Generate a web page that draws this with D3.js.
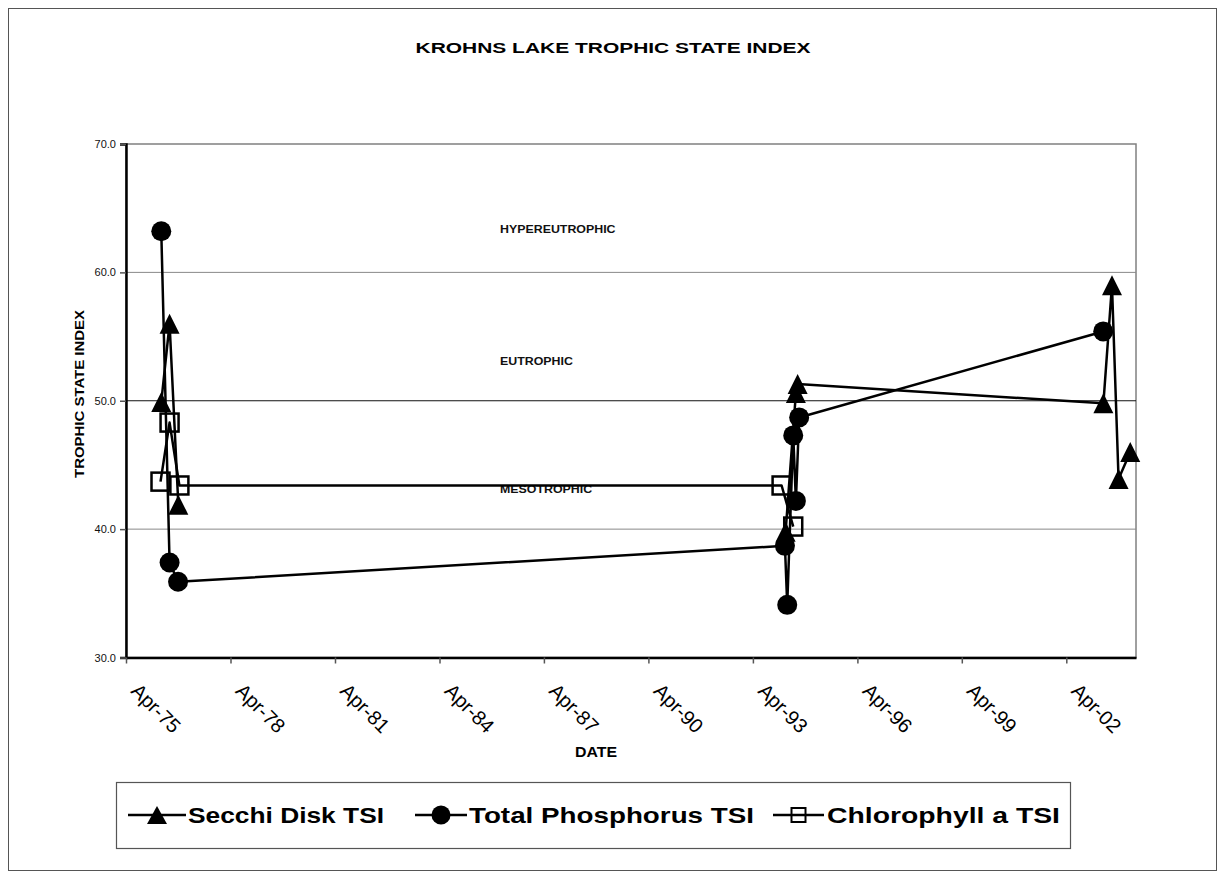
<!DOCTYPE html>
<html>
<head>
<meta charset="utf-8">
<script src="https://cdn.jsdelivr.net/npm/d3@7"></script>
<style>
  html, body { margin: 0; padding: 0; background: #fff; }
  svg { display: block; font-family: Arial, "Liberation Sans", sans-serif; }
</style>
</head>
<body>
<svg id="chart" width="1225" height="878"></svg>
<script>
// ---------------- DATA ----------------
const secchiDates  = ["1976-04-05","1976-07-01","1976-10-01", null, "1994-03-10","1994-06-26","1994-07-14","2003-04-25","2003-07-24","2003-10-01","2004-02-01"];
const secchiValues = [49.9, 56.0, 41.9, null, 39.8, 50.6, 51.3, 49.8, 59.0, 43.9, 46.0];

const phosDates  = ["1976-04-05","1976-07-01","1976-09-28","1994-03-03","1994-03-27","1994-05-29","1994-06-26","1994-07-30","2003-04-23"];
const phosValues = [63.2, 37.4, 35.9, 38.7, 34.1, 47.3, 42.2, 48.7, 55.4];

const chlDates  = ["1976-03-28","1976-07-01","1976-10-12","1994-01-27","1994-05-29"];
const chlValues = [43.7, 48.3, 43.4, 43.4, 40.2];

const xTickDates  = ["1975-04-01","1978-04-01","1981-04-01","1984-04-01","1987-04-01","1990-04-01","1993-04-01","1996-04-01","1999-04-01","2002-04-01"];
const xTickLabels = ["Apr-75","Apr-78","Apr-81","Apr-84","Apr-87","Apr-90","Apr-93","Apr-96","Apr-99","Apr-02"];
const yTicks = [30, 40, 50, 60, 70];
const zoneLabels = ["HYPEREUTROPHIC", "EUTROPHIC", "MESOTROPHIC"];
const zoneValues = [63.1, 52.8, 42.8];
const seriesNames = ["Secchi Disk TSI", "Total Phosphorus TSI", "Chlorophyll a TSI"];

// ---------------- LAYOUT ----------------
const svg = d3.select("#chart");
const parse = d3.utcParse("%Y-%m-%d");
const plot = { left: 126, right: 1136, top: 144, bottom: 657.5 };

const x = d3.scaleUtc()
  .domain([parse("1975-04-01"), parse("2004-04-01")])
  .range([plot.left, plot.right]);
const y = d3.scaleLinear().domain([30, 70]).range([plot.bottom, plot.top]);

// outer chart border
svg.append("rect").attr("x", 8.5).attr("y", 8.5).attr("width", 1208).attr("height", 862)
  .attr("fill", "#fff").attr("stroke", "#555").attr("stroke-width", 1);

// title
svg.append("text").attr("x", 613).attr("y", 53).attr("text-anchor", "middle")
  .attr("font-size", 14.5).attr("font-weight", "bold")
  .attr("textLength", 395).attr("lengthAdjust", "spacingAndGlyphs")
  .text("KROHNS LAKE TROPHIC STATE INDEX");

// plot area
svg.append("rect").attr("x", plot.left).attr("y", plot.top)
  .attr("width", plot.right - plot.left).attr("height", plot.bottom - plot.top)
  .attr("fill", "#fff").attr("stroke", "#808080").attr("stroke-width", 1.5);

// gridlines
svg.append("g").selectAll("line").data([40, 50, 60]).join("line")
  .attr("x1", plot.left).attr("x2", plot.right)
  .attr("y1", d => y(d)).attr("y2", d => y(d))
  .attr("stroke", d => d === 50 ? "#111" : "#888").attr("stroke-width", 1);

// zone labels (slightly wide, as in the reference)
svg.append("g").selectAll("text").data(zoneLabels).join("text")
  .attr("transform", (d, i) => `translate(500,${y(zoneValues[i])}) scale(1.18,1)`)
  .attr("font-size", 10.5).attr("font-weight", "bold").attr("fill", "#111")
  .text(d => d);

// Y axis
const yAxis = d3.axisLeft(y).tickValues(yTicks).tickFormat(d3.format(".1f")).tickSize(6).tickPadding(4);
const yg = svg.append("g").attr("transform", `translate(${plot.left},0)`).call(yAxis);
yg.select(".domain").attr("stroke", "#000").attr("stroke-width", 2.5);
yg.selectAll(".tick line").attr("stroke", "#555").attr("stroke-width", 1.5);
yg.selectAll(".tick text").attr("font-size", 11).attr("font-family", "Arial, 'Liberation Sans', sans-serif").attr("fill", "#111");

// X axis
const xAxis = d3.axisBottom(x).tickValues(xTickDates.map(parse)).tickFormat("").tickSize(6).tickSizeOuter(0);
const xg = svg.append("g").attr("transform", `translate(0,${plot.bottom})`).call(xAxis);
xg.select(".domain").attr("stroke", "#000").attr("stroke-width", 2.5);
xg.selectAll(".tick line").attr("stroke", "#555").attr("stroke-width", 1.5);

svg.append("g").selectAll("text").data(xTickLabels).join("text")
  .attr("transform", (d, i) => `translate(${x(parse(xTickDates[i])) + 4},692) rotate(45)`)
  .attr("font-size", 20).attr("text-anchor", "start").attr("fill", "#000")
  .text(d => d);

// axis titles
svg.append("text").attr("x", 596).attr("y", 757).attr("text-anchor", "middle")
  .attr("font-size", 14).attr("font-weight", "bold")
  .attr("textLength", 42).attr("lengthAdjust", "spacingAndGlyphs").text("DATE");
svg.append("text").attr("transform", "translate(83.5,394) rotate(-90)").attr("text-anchor", "middle")
  .attr("font-size", 13.5).attr("font-weight", "bold")
  .attr("textLength", 168).attr("lengthAdjust", "spacingAndGlyphs").text("TROPHIC STATE INDEX");

// ---------------- SERIES ----------------
function rows(dates, values) {
  return dates.map((d, i) => ({ date: d ? parse(d) : null, value: values[i] }));
}
const secchi = rows(secchiDates, secchiValues);
const phos = rows(phosDates, phosValues);
const chl = rows(chlDates, chlValues);

const line = d3.line().defined(d => d.date !== null && d.value !== null)
  .x(d => x(d.date)).y(d => y(d.value));

function triPath(w, h) {
  h = h || w;
  return `M0,${-h/2}L${w/2},${h/2}L${-w/2},${h/2}Z`;
}

const series = svg.append("g");
[secchi, phos, chl].forEach(data => {
  series.append("path").datum(data).attr("d", line)
    .attr("fill", "none").attr("stroke", "#000").attr("stroke-width", 2.5).attr("stroke-linejoin", "round");
});

// markers
series.append("g").selectAll("path").data(secchi.filter(d => d.date)).join("path")
  .attr("transform", d => `translate(${x(d.date)},${y(d.value)})`)
  .attr("d", triPath(20)).attr("fill", "#000");
series.append("g").selectAll("circle").data(phos).join("circle")
  .attr("cx", d => x(d.date)).attr("cy", d => y(d.value)).attr("r", 10).attr("fill", "#000");
series.append("g").selectAll("rect").data(chl).join("rect")
  .attr("x", d => x(d.date) - 9).attr("y", d => y(d.value) - 9)
  .attr("width", 18).attr("height", 18)
  .attr("fill", "none").attr("stroke", "#000").attr("stroke-width", 2.5);

// ---------------- LEGEND ----------------
const lg = svg.append("g");
lg.append("rect").attr("x", 116.5).attr("y", 782.5).attr("width", 954).attr("height", 66)
  .attr("fill", "#fff").attr("stroke", "#555").attr("stroke-width", 1.2);
const legY = 815;
const legItems = [
  { x1: 128, x2: 186, tx: 188, tl: 196, kind: "tri" },
  { x1: 415, x2: 467, tx: 469, tl: 285, kind: "circle" },
  { x1: 773, x2: 824, tx: 827, tl: 233, kind: "square" }
];
legItems.forEach((it, i) => {
  lg.append("line").attr("x1", it.x1).attr("x2", it.x2).attr("y1", legY).attr("y2", legY)
    .attr("stroke", "#000").attr("stroke-width", 2.5);
  const cx = (it.x1 + it.x2) / 2;
  if (it.kind === "tri") {
    lg.append("path").attr("transform", `translate(${cx},${legY})`).attr("d", triPath(20, 18)).attr("fill", "#000");
  } else if (it.kind === "circle") {
    lg.append("circle").attr("cx", cx).attr("cy", legY).attr("r", 9.5).attr("fill", "#000");
  } else {
    lg.append("rect").attr("x", cx - 7).attr("y", legY - 7).attr("width", 14).attr("height", 14)
      .attr("fill", "none").attr("stroke", "#000").attr("stroke-width", 2);
  }
  lg.append("text").attr("x", it.tx).attr("y", legY + 8)
    .attr("font-size", 22.5).attr("font-weight", "bold")
    .attr("textLength", it.tl).attr("lengthAdjust", "spacingAndGlyphs")
    .text(seriesNames[i]);
});
</script>
</body>
</html>
